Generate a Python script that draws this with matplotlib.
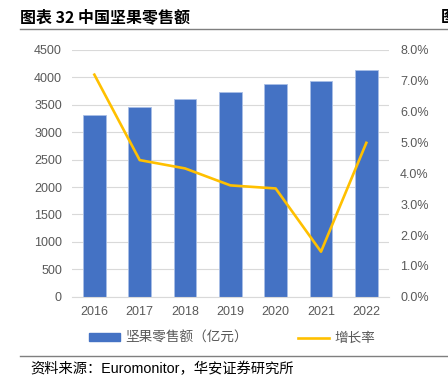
import matplotlib
matplotlib.use("Agg")
import matplotlib.pyplot as plt
from matplotlib.lines import Line2D
from matplotlib.patches import Patch

plt.rcParams['font.family'] = ['Liberation Sans', 'Noto Sans CJK SC', 'DejaVu Sans']

years = ['2016', '2017', '2018', '2019', '2020', '2021', '2022']
sales = [3315, 3465, 3612, 3740, 3880, 3930, 4130]
growth = [7.2, 4.43, 4.16, 3.61, 3.51, 1.46, 4.99]
left_ticks = [0, 500, 1000, 1500, 2000, 2500, 3000, 3500, 4000, 4500]
right_ticks = [0, 1, 2, 3, 4, 5, 6, 7, 8]
bar_label = '坚果零售额（亿元）'
line_label = '增长率'
title = '图表 32 中国坚果零售额'
source = '资料来源：Euromonitor，华安证券研究所'

W, H = 448, 379
fig = plt.figure(figsize=(W / 100, H / 100), dpi=100)
ax = fig.add_axes([71.7 / W, (H - 296.7) / H, (389 - 71.7) / W, (296.7 - 50) / H])
x = list(range(len(years)))
ax.bar(x, sales, width=0.5, color='#4472C4', edgecolor='#A9BFE6', linewidth=0.6, zorder=2)
ax.set_xlim(-0.5, len(years) - 0.5)
ax.set_ylim(0, 4500)
ax.set_yticks(left_ticks)
ax.set_yticklabels([str(v) for v in left_ticks])
ax.set_xticks(x)
ax.set_xticklabels(years)
ax.grid(axis='y', color='#D9D9D9', linewidth=0.8, zorder=0)
for s in ['top', 'right', 'left']:
    ax.spines[s].set_visible(False)
ax.spines['bottom'].set_color('#D9D9D9')
ax.spines['bottom'].set_linewidth(0.8)
ax.tick_params(axis='both', length=0, colors='#595959', labelsize=9)
ax.tick_params(axis='y', pad=7)
ax.tick_params(axis='x', pad=7)

ax2 = ax.twinx()
ax2.plot(x, growth, color='#FFC000', linewidth=1.9, zorder=3)
ax2.set_ylim(0, 8)
ax2.set_yticks(right_ticks)
ax2.set_yticklabels([f'{v}.0%' for v in right_ticks])
for s in ['top', 'right', 'left', 'bottom']:
    ax2.spines[s].set_visible(False)
ax2.tick_params(axis='y', length=0, colors='#595959', labelsize=9, pad=8)

# title
fig.text(20 / W, 1 - 17 / H, title, fontsize=11.5, fontweight='bold', color='#000000',
         family=['Noto Sans CJK SC', 'DejaVu Sans'], va='center', ha='left')
fig.text(441 / W, 1 - 17 / H, '图', fontsize=11.5, fontweight='bold', color='#000000',
         family=['Noto Sans CJK SC', 'DejaVu Sans'], va='center', ha='left')
fig.add_artist(Line2D([20 / W, 1], [1 - 29 / H, 1 - 29 / H], color='#7F7F7F', linewidth=1.0))
fig.add_artist(Line2D([20 / W, 1], [1 - 356 / H, 1 - 356 / H], color='#7F7F7F', linewidth=1.0))

# legend
handles = [Patch(facecolor='#4472C4', edgecolor='#4472C4'),
           Line2D([0], [0], color='#FFC000', linewidth=1.9)]
leg = fig.legend(handles, [bar_label, line_label], loc='center', bbox_to_anchor=(232 / W, 1 - 338 / H),
                 ncol=2, frameon=False, handlelength=2.3, handleheight=0.45,
                 columnspacing=3.7, handletextpad=0.35, prop={'family': ['Noto Sans CJK SC'], 'size': 9.8})
for t in leg.get_texts():
    t.set_color('#595959')

fig.text(30 / W, 1 - 369 / H, source, fontsize=10.3, color='#000000',
         family=['Liberation Sans', 'Noto Sans CJK SC'], va='center', ha='left')

fig.savefig('out.png', dpi=100)
